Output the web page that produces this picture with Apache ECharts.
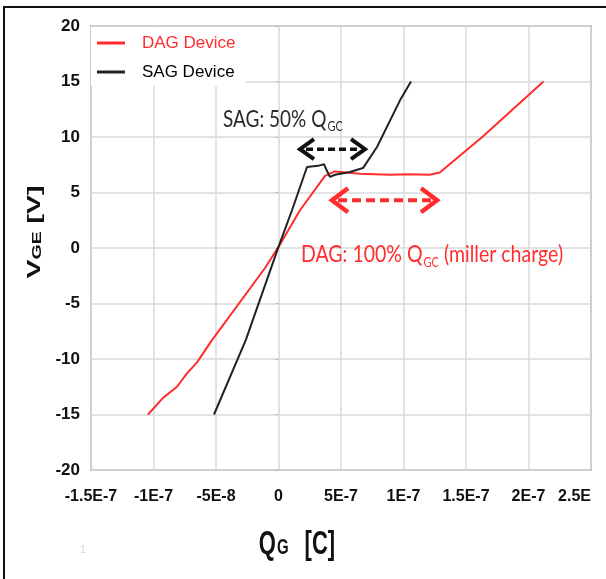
<!DOCTYPE html>
<html><head><meta charset="utf-8">
<script src="https://cdn.jsdelivr.net/npm/echarts@6/dist/echarts.min.js"></script>
<style>html,body{margin:0;padding:0;background:#fff}#c{width:606px;height:579px}</style>
</head><body><div id="c"></div>
<script>
// Charge values in nC (1e-9 C), gate voltage in V
const dagQ = [-104.4, -92.4, -81.2, -73.2, -65.2, -53.2, -10.8, 0, 17.2, 37.2, 45, 65, 89, 105, 121, 129, 163, 212];
const dagV = [-15.0, -13.5, -12.5, -11.3, -10.3, -8.3, -1.8, 0.1, 3.4, 6.5, 6.9, 6.7, 6.6, 6.65, 6.6, 6.8, 10.0, 15.0];
const sagQ = [-51.6, -26.2, 0, 10.8, 22.8, 31.6, 36.4, 38.5, 41.2, 45.2, 57.2, 67.6, 78.8, 97.2, 106];
const sagV = [-15.0, -8.3, 0.1, 3.4, 7.3, 7.4, 7.55, 7.0, 6.4, 6.6, 6.85, 7.2, 9.1, 13.3, 15.0];
const xTickLabels = ['-1.5E-7', '-1E-7', '-5E-8', '0', '5E-7', '1E-7', '1.5E-7', '2E-7', '2.5E'];
const yTickLabels = ['-20', '-15', '-10', '-5', '0', '5', '10', '15', '20'];
const seriesNames = ['DAG Device', 'SAG Device'];
// annotation anchors (data coords)
const sagArrow = {q1: 17.2, q2: 69.2, v: 8.9};
const dagArrow = {q1: 42.8, q2: 126.8, v: 4.3};
const sagText = {q: -44.4, v: 11.6};
const dagText = {q: 18, v: -0.6};

const SANS = "'Liberation Sans',Arial,sans-serif";
const RED = '#ff2d2d';
const BLACK = '#222';

const chart = echarts.init(document.getElementById('c'));
const option = {
  animation: false,
  backgroundColor: '#fff',
  grid: {left: 91, right: 15, top: 26, bottom: 109, show: true, borderColor: '#b0b0b0', borderWidth: 2, backgroundColor: 'transparent'},
  legend: {
    orient: 'vertical', left: 91, top: 27, padding: [6, 10, 4, 6],
    backgroundColor: '#fff', itemGap: 9, itemWidth: 28, itemHeight: 3, icon: 'rect',
    textStyle: {fontFamily: SANS, fontSize: 17, lineHeight: 20, padding: [0, 0, 0, 12]},
    data: [
      {name: seriesNames[0], textStyle: {color: RED}},
      {name: seriesNames[1], textStyle: {color: '#000'}}
    ]
  },
  xAxis: {
    type: 'value', min: -150, max: 250, interval: 50,
    axisLine: {show: false}, axisTick: {show: false},
    splitLine: {show: true, lineStyle: {color: '#dadada', width: 1.5}},
    axisLabel: {
      margin: 19, color: '#111', fontFamily: SANS, fontWeight: 'bold', fontSize: 16,
      showMinLabel: true, showMaxLabel: true,
      formatter: (v) => {
        const i = Math.round((v + 150) / 50);
        return i === 8 ? '{c|' + xTickLabels[i] + '}' : xTickLabels[i];
      },
      rich: {c: {fontFamily: SANS, fontWeight: 'bold', fontSize: 16, color: '#111', padding: [0, 33, 0, 0]}}
    }
  },
  yAxis: {
    type: 'value', min: -20, max: 20, interval: 5,
    axisLine: {show: false},
    axisTick: {show: true, length: 3, lineStyle: {color: '#bbb'}},
    splitLine: {show: true, lineStyle: {color: '#dadada', width: 1.5}},
    axisLabel: {
      margin: 11, color: '#111', fontFamily: SANS, fontWeight: 'bold', fontSize: 17,
      showMinLabel: true, showMaxLabel: true,
      formatter: (v) => yTickLabels[Math.round((v + 20) / 5)]
    }
  },
  series: [
    {name: seriesNames[0], type: 'line', showSymbol: false, symbol: 'none', color: RED,
     lineStyle: {width: 2, color: RED}, data: dagQ.map((q, i) => [q, dagV[i]])},
    {name: seriesNames[1], type: 'line', showSymbol: false, symbol: 'none', color: BLACK,
     lineStyle: {width: 2, color: BLACK}, data: sagQ.map((q, i) => [q, sagV[i]])}
  ]
};
chart.setOption(option);

const px = (q, v) => chart.convertToPixel({seriesIndex: 0}, [q, v]);

function arrow(a, color, headL, headH, lw, dash) {
  const p1 = px(a.q1, a.v), p2 = px(a.q2, a.v);
  const y = p1[1];
  return [
    {type: 'polyline', z: 100, shape: {points: [[p1[0] + 6, y], [p2[0] - 6, y]]},
     style: {stroke: color, lineWidth: lw, lineDash: dash, fill: null}},
    {type: 'polyline', z: 100, shape: {points: [[p1[0] + headL, y - headH], [p1[0], y], [p1[0] + headL, y + headH]]},
     style: {stroke: color, lineWidth: lw + 0.5, fill: null, lineJoin: 'miter'}},
    {type: 'polyline', z: 100, shape: {points: [[p2[0] - headL, y - headH], [p2[0], y], [p2[0] - headL, y + headH]]},
     style: {stroke: color, lineWidth: lw + 0.5, fill: null, lineJoin: 'miter'}}
  ];
}

const sp = px(sagText.q, sagText.v);
const dp = px(dagText.q, dagText.v);
const ANN = "Lato,'Open Sans',sans-serif";

chart.setOption({
  graphic: [
    {type: 'rect', silent: true, shape: {x: 4, y: 7, width: 700, height: 700},
     style: {fill: null, stroke: '#111', lineWidth: 2}},
    ...arrow(sagArrow, '#111', 14, 10, 3.5, [7, 4]),
    ...arrow(dagArrow, RED, 16, 12, 4, [9, 5]),
    {type: 'text', z: 100, x: sp[0], y: sp[1], scaleY: 1.2,
     style: {text: '{m|SAG: 50% Q}{s|GC}', align: 'left', verticalAlign: 'middle',
       rich: {m: {fontFamily: ANN, fontSize: 19, fill: '#2a2a2a'},
              s: {fontFamily: ANN, fontSize: 11, fill: '#2a2a2a', padding: [13, 0, 0, 1]}}}},
    {type: 'text', z: 100, x: dp[0], y: dp[1], scaleY: 1.2,
     style: {text: '{m|DAG: 100% Q}{s|GC}{m| (miller charge)}', align: 'left', verticalAlign: 'middle',
       rich: {m: {fontFamily: ANN, fontSize: 19.5, fill: RED},
              s: {fontFamily: ANN, fontSize: 11, fill: RED, padding: [13, 0, 0, 1]}}}},
    {type: 'text', z: 100, x: 35, y: 232, rotation: Math.PI / 2, scaleX: 1.5,
     style: {text: '{v|V}{g|GE}{b| [V]}', align: 'center', verticalAlign: 'middle',
       rich: {v: {fontFamily: SANS, fontWeight: 'bold', fontSize: 19, fill: '#111'},
              g: {fontFamily: SANS, fontWeight: 'bold', fontSize: 13, fill: '#111', padding: [5, 0, 0, 0]},
              b: {fontFamily: SANS, fontWeight: 'bold', fontSize: 19, fill: '#111'}}}},
    {type: 'text', z: 100, x: 297, y: 545, scaleY: 1.47,
     style: {text: '{q|Q}{g|G}{b|[C]}', align: 'center', verticalAlign: 'middle',
       rich: {q: {fontFamily: SANS, fontWeight: 'bold', fontSize: 22, fill: '#111'},
              g: {fontFamily: SANS, fontWeight: 'bold', fontSize: 15, fill: '#111', padding: [4, 0, 0, 1]},
              b: {fontFamily: SANS, fontWeight: 'bold', fontSize: 22, fill: '#111', padding: [0, 0, 0, 16]}}}},
    {type: 'text', x: 83, y: 550, style: {text: '1', fontSize: 10, fill: '#d4d4d4', align: 'center', verticalAlign: 'middle'}}
  ]
});
</script>
</body></html>
